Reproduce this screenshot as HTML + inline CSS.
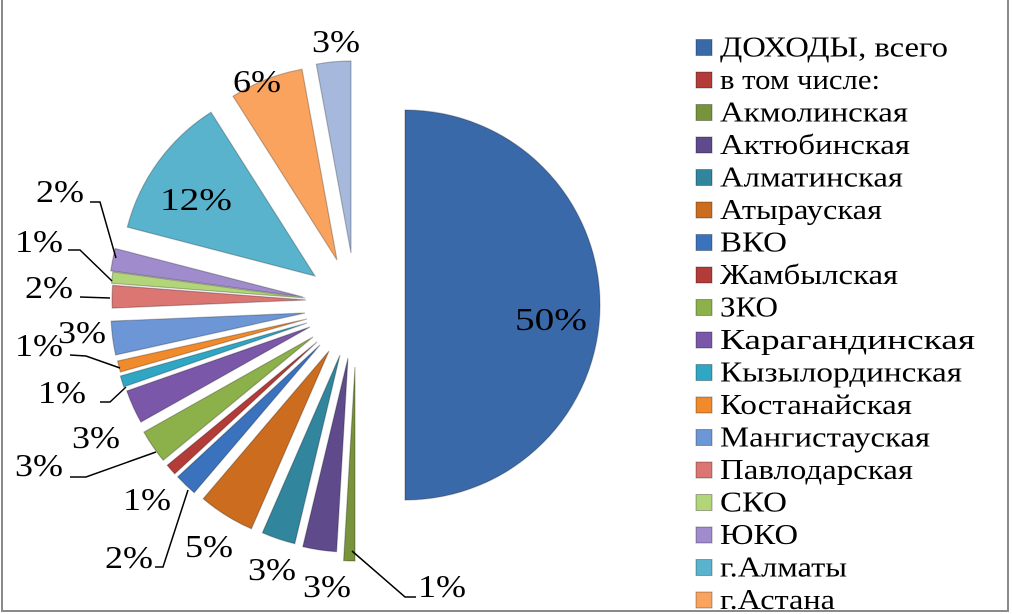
<!DOCTYPE html>
<html><head><meta charset="utf-8"><style>
body{margin:0;background:#fff;}
svg{display:block;}
text{font-family:"Liberation Serif","DejaVu Serif","Times New Roman",serif;}
</style></head><body>
<svg id="s" width="1012" height="614" viewBox="0 0 1012 614" xmlns="http://www.w3.org/2000/svg">
<rect x="0" y="0" width="1012" height="614" fill="#fff"/>
<rect x="2" y="-2" width="1006" height="613" fill="none" stroke="#8a8a8a" stroke-width="2"/>
<g id="pie"></g>
<g fill="none" stroke="#000" stroke-width="1.5">
<polyline points="90,202 100,202 116,258"/>
<polyline points="68,250 80,250 112,281"/>
<polyline points="80,297 110,298"/>
<polyline points="70,355 86,356 120,368"/>
<polyline points="100,402 110,402 126,387"/>
<polyline points="70,477 86,477 156,452"/>
<polyline points="155,567 163,567 188,490"/>
<polyline points="352,551 405,597 416,597"/>
</g>
<g id="lab" font-size="32" fill="#000"></g>
<g id="leg" font-size="29" fill="#000"></g>
</svg>
<script>
var NS="http://www.w3.org/2000/svg";
function txt(par,x,y,s,w){var t=document.createElementNS(NS,"text");t.setAttribute("x",x);t.setAttribute("y",y);
 if(w){t.setAttribute("textLength",w);t.setAttribute("lengthAdjust","spacingAndGlyphs");}t.textContent=s;par.appendChild(t);}
var pie=document.getElementById("pie");
function slice(tx,ty,a0,a1,r,c){
 var p=document.createElementNS(NS,"path");
 var A=a0*Math.PI/180,B=a1*Math.PI/180;
 var d="M"+tx+","+ty+" L"+(tx+r*Math.cos(A)).toFixed(1)+","+(ty+r*Math.sin(A)).toFixed(1)+
 " A"+r+","+r+" 0 "+((a1-a0)>180?1:0)+" 1 "+(tx+r*Math.cos(B)).toFixed(1)+","+(ty+r*Math.sin(B)).toFixed(1)+" Z";
 p.setAttribute("d",d);p.setAttribute("fill",c);p.setAttribute("stroke","rgba(0,0,0,0.25)");p.setAttribute("stroke-width","1.2");
 pie.appendChild(p);
}
slice(405,305,-90,90,195,"#3a69a9");
var k=3.37,a=90;
var lows=[[1,355,367,"#77933c"],[3,348,358,"#5f4a8b"],[3,340,355,"#31859c"],[5,329,351,"#cc6c1f"],
[2,320,345,"#3b72bd"],[1,317,342,"#b33b38"],[3,313,337,"#8cb14a"],[3,310,327,"#7a57a8"],
[1,307,323,"#2fa6c3"],[1,307,319,"#f08a2a"],[3,305,313,"#6d96d6"],[2,306,300,"#db7672"],
[1,305,298,"#b3d57a"],[2,303,297,"#a08ccc"]];
lows.forEach(function(s){var b=a+s[0]*k;slice(s[1],s[2],a,b,194,s[3]);a=b;});
slice(315,276,194.6,237.6,194,"#5ab3cd");
slice(337,260,237.6,259.6,194,"#f9a35f");
slice(351,253,259.6,270,192,"#a6b9dd");
var lab=document.getElementById("lab");
[[515,330,"50%"],[312,52,"3%"],[233,92,"6%"],[160,210,"12%"],[36,202,"2%"],[15,252,"1%"],[25,298,"2%"],
[58,343,"3%"],[15,356,"1%"],[38,403,"1%"],[72,448,"3%"],[15,476,"3%"],[123,510,"1%"],[105,568,"2%"],
[185,557,"5%"],[248,580,"3%"],[303,597,"3%"],[418,597,"1%"]].forEach(function(l){txt(lab,l[0],l[1],l[2],l[2].length==3?72:48);});
var names=[["ДОХОДЫ, всего",228],["в том числе:",160],["Акмолинская",188],["Актюбинская",190],["Алматинская",183],["Атырауская",162],["ВКО",67],["Жамбылская",178],["ЗКО",58],["Карагандинская",255],["Кызылординская",242],["Костанайская",192],["Мангистауская",210],["Павлодарская",193],["СКО",67],["ЮКО",78],["г.Алматы",127],["г.Астана",115]];
var cols=["#3a69a9","#b33b38","#77933c","#5f4a8b","#31859c","#cc6c1f","#3b72bd","#b33b38","#8cb14a","#7a57a8","#2fa6c3","#f08a2a","#6d96d6","#db7672","#b3d57a","#a08ccc","#5ab3cd","#f9a35f"];
var leg=document.getElementById("leg");
names.forEach(function(n,i){
 var y=56.5+i*32.5;
 var r=document.createElementNS(NS,"rect");
 r.setAttribute("x",696);r.setAttribute("y",y-17);r.setAttribute("width",16);r.setAttribute("height",16);
 r.setAttribute("fill",cols[i]);r.setAttribute("stroke","rgba(0,0,0,0.3)");leg.appendChild(r);
 txt(leg,720,y,n[0],n[1]);
});
</script>
</body></html>
